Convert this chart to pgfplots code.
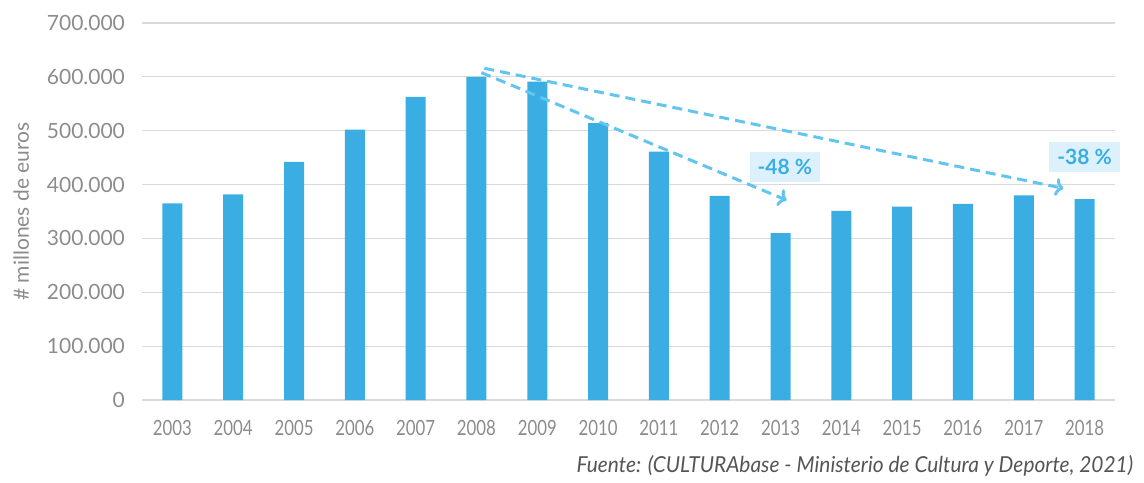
\documentclass[border=0pt]{standalone}
\usepackage{pgfplots}
\pgfplotsset{compat=1.18}
\usepackage{fontspec}
\setmainfont{Lato}
\usetikzlibrary{arrows.meta}
\definecolor{barblue}{HTML}{3AAEE3}
\definecolor{arrowblue}{HTML}{62C5F0}
\definecolor{boxblue}{HTML}{DCF1FB}
\definecolor{txtgray}{HTML}{8C8C8C}
\definecolor{gridgray}{HTML}{DADADA}
\definecolor{srcgray}{HTML}{555555}
\newcommand{\sx}[1]{\scalebox{0.8}[1]{#1}}
\begin{document}
\begin{tikzpicture}
\begin{axis}[
  scale only axis,
  width=486.5pt, height=188.5pt,
  xmin=-0.5, xmax=15.5,
  ymin=0, ymax=700000,
  scaled y ticks=false,
  axis line style={draw=none},
  major tick length=0pt,
  ytick={0,100000,...,700000},
  yticklabels={0,100.000,200.000,300.000,400.000,500.000,600.000,700.000},
  xtick={0,...,15},
  xticklabels={\sx{2003},\sx{2004},\sx{2005},\sx{2006},\sx{2007},\sx{2008},\sx{2009},\sx{2010},\sx{2011},\sx{2012},\sx{2013},\sx{2014},\sx{2015},\sx{2016},\sx{2017},\sx{2018}},
  ymajorgrids,
  grid style={gridgray, line width=0.6pt},
  tick label style={font=\fontsize{10.5}{11}\selectfont, text=txtgray},
  yticklabel style={xshift=-5pt},
  xticklabel style={yshift=-6.5pt},
  ylabel={\# millones de euros},
  ylabel style={font=\fontsize{10.5}{11}\selectfont, text=txtgray, yshift=2pt},
  clip=false,
]
\addplot[ybar, bar width=10pt, fill=barblue, draw=none] coordinates {
  (0,365000) (1,382000) (2,442000) (3,502000) (4,563000) (5,600000)
  (6,591000) (7,514000) (8,461000) (9,379000) (10,310000) (11,351000)
  (12,359000) (13,364000) (14,380000) (15,373000)
};
\draw[arrowblue, line width=1.5pt, dash pattern=on 5pt off 3pt, -{To[length=4pt,width=9pt]}]
  (axis cs:5.08,608000) -- (axis cs:10.1,371000);
\draw[arrowblue, line width=1.5pt, dash pattern=on 5pt off 3pt, -{To[length=4pt,width=9pt]}]
  (axis cs:5.13,616000) -- (axis cs:14.65,393000);
\node[fill=boxblue, text=barblue, font=\bfseries\fontsize{10.5}{11}\selectfont, inner xsep=4pt, inner ysep=3.5pt] at (axis cs:10.07,433000) {-48 \%};
\node[fill=boxblue, text=barblue, font=\bfseries\fontsize{10.5}{11}\selectfont, inner xsep=4pt, inner ysep=3.5pt] at (axis cs:15.0,451000) {-38 \%};
\end{axis}
\path (current axis.south west) ++(-71pt,-38.5pt) coordinate (BL) rectangle ++(572pt,238.5pt) coordinate (TR);
\node[anchor=base east, font=\itshape\fontsize{11}{12}\selectfont, text=srcgray] at ([xshift=-2pt,yshift=2.5pt]BL -| TR) {\scalebox{0.95}[1]{Fuente: (CULTURAbase - Ministerio de Cultura y Deporte, 2021)}};
\end{tikzpicture}
\end{document}
